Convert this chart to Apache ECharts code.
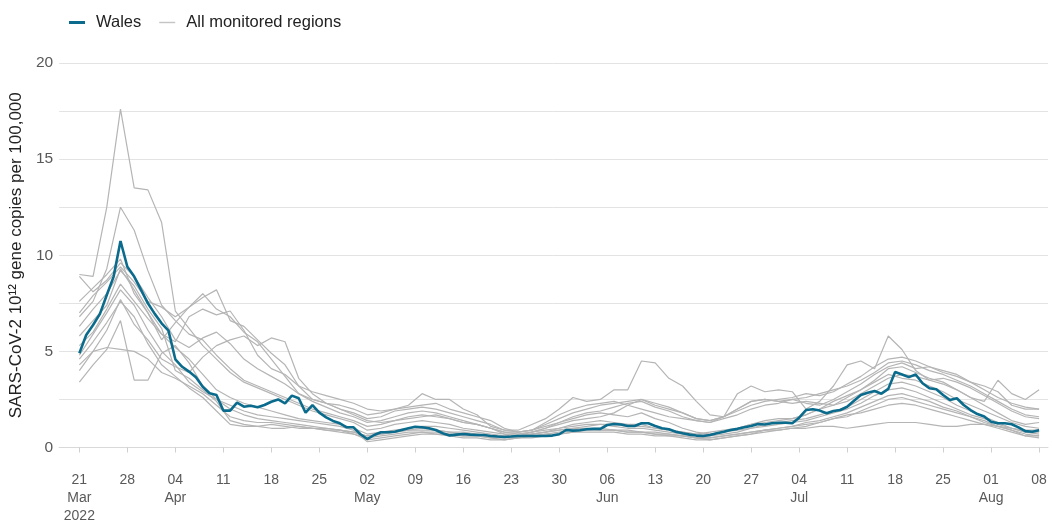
<!DOCTYPE html>
<html>
<head>
<meta charset="utf-8">
<script src="https://cdn.jsdelivr.net/npm/echarts@6/dist/echarts.min.js"></script>
<style>
  html, body { margin: 0; padding: 0; background: #fff; }
  #chart { width: 1052px; height: 526px; }
</style>
</head>
<body>
<div id="chart"></div>
<script>
// daily data, 21 Mar 2022 .. 08 Aug 2022 (day index 0..140)
const tickDays = [0, 7, 14, 21, 28, 35, 42, 49, 56, 63, 70, 77, 84, 91, 98, 105, 112, 119, 126, 133, 140];
const tickLabels = ['21\nMar\n2022', '28', '04\nApr', '11', '18', '25', '02\nMay', '09', '16', '23', '30',
  '06\nJun', '13', '20', '27', '04\nJul', '11', '18', '25', '01\nAug', '08'];

const wales = [
  4.9, 5.85, 6.37, 6.95, 7.93, 8.89, 10.74, 9.4, 8.89, 8.2,
  7.5, 6.95, 6.46, 6.08, 4.59, 4.2, 3.95, 3.65, 3.16, 2.82,
  2.73, 1.92, 1.92, 2.33, 2.12, 2.17, 2.09, 2.21, 2.38, 2.5,
  2.3, 2.7, 2.56, 1.81, 2.21, 1.81, 1.57, 1.38, 1.26, 1.05,
  1.05, 0.69, 0.44, 0.65, 0.79, 0.79, 0.82, 0.91, 1.0, 1.08,
  1.05, 1.0, 0.91, 0.74, 0.63, 0.67, 0.7, 0.67, 0.65, 0.65,
  0.6, 0.57, 0.55, 0.57, 0.6, 0.6, 0.6, 0.6, 0.6, 0.62,
  0.69, 0.91, 0.88, 0.9, 0.95, 0.97, 0.97, 1.17, 1.22, 1.2,
  1.12, 1.12, 1.26, 1.26, 1.12, 1.0, 0.95, 0.82, 0.74, 0.67,
  0.62, 0.6, 0.65, 0.74, 0.82, 0.91, 0.97, 1.05, 1.12, 1.22,
  1.2, 1.26, 1.29, 1.29, 1.26, 1.55, 1.95, 1.99, 1.92, 1.78,
  1.9, 1.95, 2.12, 2.43, 2.73, 2.85, 2.94, 2.8, 3.05, 3.93,
  3.8, 3.66, 3.8, 3.34, 3.08, 3.03, 2.73, 2.47, 2.56, 2.21,
  1.95, 1.74, 1.61, 1.34, 1.26, 1.26, 1.21, 1.05, 0.85, 0.82,
  0.9
];

// other monitored regions, read every second day (day 0, 2, 4 ... 140)
const region1 = [
  9.0, 8.9, 12.5, 17.6, 13.5, 13.4, 11.7, 7.1, 6.2, 5.3,
  4.6, 3.9, 3.4, 3.1, 2.8, 2.5, 2.2, 1.9, 1.7, 1.5,
  1.3, 0.9, 1.0, 1.2, 1.3, 1.4, 1.3, 1.2, 1.0, 0.9,
  0.8, 0.7, 0.7, 0.8, 0.9, 1.0, 1.2, 1.3, 1.4, 1.3,
  1.2, 1.2, 1.0, 0.9, 0.8, 0.7, 0.8, 0.9, 1.0, 1.2,
  1.3, 1.4, 1.5, 1.7, 2.0, 2.4, 2.7, 3.0, 3.4, 3.8,
  3.6, 3.5, 3.2, 2.9, 2.5, 2.2, 1.9, 1.6, 1.3, 1.1,
  1.0
];
const region2 = [
  6.8, 7.6, 9.3, 12.5, 11.3, 9.2, 7.4, 6.6, 5.9, 5.6,
  4.8, 4.1, 3.5, 3.2, 2.9, 2.6, 2.3, 2.0, 1.8, 1.6,
  1.4, 1.1, 1.2, 1.4, 1.6, 1.7, 1.6, 1.5, 1.3, 1.2,
  1.0, 0.8, 0.7, 0.8, 1.0, 1.3, 1.5, 1.7, 1.8, 1.7,
  1.6, 1.8, 1.5, 1.3, 1.0, 0.8, 0.7, 0.8, 1.0, 1.2,
  1.4, 1.5, 1.5, 1.7, 2.0, 2.2, 2.6, 3.0, 3.5, 4.1,
  4.2, 3.9, 3.6, 3.4, 3.0, 2.6, 2.2, 1.8, 1.4, 1.2,
  1.3
];
const region3 = [
  5.8, 6.6, 7.4, 9.3, 8.2, 7.0, 5.6, 6.5, 7.3, 7.8,
  8.2, 6.6, 6.3, 5.6, 4.9, 4.3, 3.2, 2.5, 2.3, 2.0,
  1.8, 1.5, 1.6, 1.9, 2.0, 2.1, 2.0, 1.8, 1.6, 1.4,
  1.2, 0.9, 0.8, 0.9, 1.2, 1.5, 1.8, 2.0, 2.2, 2.3,
  2.4, 2.5, 2.2, 2.0, 1.8, 1.5, 1.4, 1.6, 2.0, 2.4,
  2.5, 2.4, 2.3, 2.4, 2.3, 2.2, 2.4, 2.8, 3.2, 3.6,
  3.8, 3.7, 3.5, 3.6, 3.4, 3.1, 2.7, 2.3, 1.9, 1.6,
  1.5
];
const region4 = [
  4.3, 5.0, 6.1, 7.7, 6.4, 5.6, 4.6, 4.2, 3.9, 4.7,
  5.3, 5.6, 5.8, 5.3, 5.7, 5.5, 3.6, 2.8, 2.3, 2.0,
  1.7, 1.4, 1.3, 1.4, 1.5, 1.6, 1.7, 1.5, 1.3, 1.2,
  1.0, 0.8, 0.8, 0.9, 1.1, 1.3, 1.6, 1.8, 1.9, 2.1,
  2.3, 2.4, 2.1, 1.9, 1.6, 1.4, 1.3, 1.5, 1.7, 2.0,
  2.2, 2.3, 2.5, 2.6, 2.8, 3.0, 3.2, 3.5, 3.9, 4.4,
  4.5, 4.3, 4.0, 3.8, 3.5, 3.2, 2.8, 2.4, 2.0, 1.7,
  1.6
];
const region5 = [
  7.6, 8.3, 9.0, 9.8, 8.0, 7.0, 5.9, 5.5, 6.8, 7.2,
  6.9, 7.1, 6.1, 4.8, 4.1, 3.8, 3.2, 2.9, 2.7, 2.5,
  2.3, 2.0, 1.9, 2.0, 2.2, 2.8, 2.5, 2.5, 2.0, 1.7,
  1.1, 0.9, 0.9, 1.2, 1.5, 2.0, 2.6, 2.4, 2.5, 3.0,
  3.0, 4.5, 4.4, 3.6, 3.2, 2.4, 1.7, 1.6, 2.8, 3.2,
  2.9, 3.0, 2.9, 2.0, 2.4, 3.2, 4.3, 4.5, 4.1, 5.8,
  5.1, 4.0, 3.5, 3.3, 3.0, 2.6, 2.4, 3.5, 2.8, 2.5,
  3.0
];
const region6 = [
  8.9, 8.1, 8.7, 9.6, 8.9, 7.8, 6.8, 5.6, 5.2, 5.7,
  6.0, 5.4, 4.6, 4.1, 3.7, 3.3, 2.8, 2.4, 2.1, 1.8,
  1.6, 1.3, 1.4, 1.6, 1.8, 1.9, 1.8, 1.6, 1.4, 1.2,
  1.0, 0.7, 0.6, 0.8, 1.0, 1.2, 1.4, 1.5, 1.6, 1.8,
  2.2, 2.5, 2.3, 2.1, 1.8, 1.5, 1.4, 1.6, 1.9, 2.2,
  2.4, 2.5, 2.6, 2.8, 2.7, 2.9, 3.3, 3.7, 4.2, 4.6,
  4.7, 4.5, 4.2, 3.9, 3.7, 3.4, 3.2, 2.9, 2.2, 2.0,
  2.0
];
const region7 = [
  5.3, 6.0, 7.2, 8.5, 7.6, 6.7, 5.9, 5.2, 4.6, 3.8,
  3.0, 2.6, 2.3, 2.1, 1.9, 1.7, 1.5, 1.4, 1.3, 1.2,
  1.0, 0.7, 0.8, 0.9, 1.0, 1.1, 1.1, 1.0, 0.9, 0.8,
  0.7, 0.6, 0.6, 0.7, 0.8, 0.9, 1.0, 1.1, 1.2, 1.2,
  1.1, 1.1, 1.0, 0.9, 0.8, 0.7, 0.7, 0.8, 0.9, 1.0,
  1.2, 1.3, 1.4, 1.5, 1.7, 1.9, 2.1, 2.5, 2.9, 3.3,
  3.4, 3.2, 2.9, 2.6, 2.2, 1.9, 1.6, 1.3, 1.0, 0.8,
  0.7
];
const region8 = [
  3.4, 4.3, 5.1, 6.6, 3.5, 3.5, 4.9, 5.3, 4.4, 3.2,
  2.5, 2.0, 1.7, 1.5, 1.4, 1.3, 1.2, 1.1, 1.0, 0.9,
  0.7, 0.4, 0.5, 0.6, 0.7, 0.8, 0.8, 0.7, 0.6, 0.6,
  0.5, 0.5, 0.5, 0.6, 0.7, 0.8, 0.9, 1.0, 1.0, 0.9,
  0.9, 0.8, 0.8, 0.7, 0.6, 0.5, 0.5, 0.6, 0.7, 0.8,
  0.9, 1.0, 1.1, 1.3, 1.4, 1.6, 1.8, 2.1, 2.4, 2.7,
  2.8, 2.6, 2.4, 2.1, 1.9, 1.6, 1.4, 1.1, 0.9, 0.7,
  0.6
];
const region9 = [
  6.3, 7.2, 8.0, 9.2, 8.4, 7.2, 6.2, 4.0, 3.6, 3.0,
  2.4, 1.4, 1.2, 1.1, 1.0, 1.0, 1.1, 1.0, 0.9, 0.8,
  0.7, 0.5, 0.6, 0.7, 0.8, 0.8, 0.7, 0.7, 0.6, 0.6,
  0.5, 0.4, 0.5, 0.6, 0.7, 0.7, 0.8, 0.9, 0.9, 0.9,
  0.8, 0.8, 0.7, 0.7, 0.6, 0.5, 0.4, 0.5, 0.6, 0.7,
  0.9, 1.0, 1.1, 1.2, 1.3, 1.5, 1.6, 1.9, 2.2, 2.5,
  2.6, 2.4, 2.2, 2.0, 1.8, 1.6, 1.3, 1.1, 0.9, 0.6,
  0.6
];
const region10 = [
  4.6, 5.5, 6.5, 7.6, 6.8, 5.4, 4.3, 3.7, 3.1, 2.6,
  1.9, 1.2, 1.1, 1.1, 1.2, 1.1, 1.0, 1.0, 0.9, 0.9,
  0.8, 0.6, 0.7, 0.8, 0.9, 1.0, 0.9, 0.8, 0.8, 0.7,
  0.6, 0.6, 0.6, 0.7, 0.8, 1.0, 1.1, 1.2, 1.2, 1.1,
  1.0, 1.0, 0.9, 0.8, 0.7, 0.6, 0.6, 0.7, 0.8, 1.0,
  1.1, 1.2, 1.3, 1.4, 1.6, 1.8, 2.0, 2.3, 2.7, 3.0,
  3.1, 2.9, 2.6, 2.3, 2.0, 1.7, 1.5, 1.2, 1.0, 0.8,
  0.8
];
const region11 = [
  4.0, 5.0, 5.2, 5.1, 5.0, 4.6, 3.9, 3.6, 3.2, 2.8,
  2.2, 1.6, 1.4, 1.3, 1.3, 1.2, 1.1, 1.0, 1.0, 0.9,
  0.8, 0.6, 0.7, 0.8, 0.9, 0.9, 0.9, 0.8, 0.7, 0.7,
  0.6, 0.6, 0.6, 0.7, 0.8, 0.9, 1.0, 1.0, 0.9, 0.9,
  0.8, 0.8, 0.7, 0.6, 0.6, 0.5, 0.5, 0.6, 0.7, 0.8,
  0.9, 0.9, 1.0, 1.0, 1.1, 1.1, 1.0, 1.1, 1.2, 1.3,
  1.3, 1.3, 1.2, 1.1, 1.1, 1.2, 1.2, 1.1, 1.0, 0.9,
  0.9
];
const region12 = [
  7.0, 7.9, 8.6, 9.4, 8.6, 7.6, 7.3, 6.8, 7.3, 8.0,
  7.2, 6.8, 6.0, 5.5, 4.6, 3.7, 2.8, 2.5, 2.3, 2.2,
  2.0, 1.7, 1.8, 2.0, 2.1, 2.2, 2.3, 2.0, 1.8, 1.6,
  1.4, 1.0, 0.8, 0.9, 1.3, 1.7, 2.0, 2.2, 2.3, 2.4,
  2.2, 2.0, 1.8, 1.6, 1.5, 1.4, 1.3, 1.6, 2.0, 2.4,
  2.5, 2.4, 2.5, 2.3, 2.2, 2.5, 2.9, 3.3, 3.8, 4.2,
  4.4, 4.1, 4.2, 4.0, 3.8, 3.4, 3.0, 2.6, 2.3, 2.1,
  2.0
];
const region13 = [
  4.8, 5.9, 7.0, 8.2, 7.4, 6.1, 5.0, 4.3, 3.4, 2.9,
  2.5, 2.2, 1.9, 1.7, 1.6, 1.5, 1.4, 1.3, 1.2, 1.1,
  0.9, 0.3, 0.4, 0.5, 0.6, 0.7, 0.7, 0.6, 0.5, 0.5,
  0.4, 0.4, 0.5, 0.5, 0.6, 0.7, 0.8, 0.8, 0.8, 0.8,
  0.7, 0.7, 0.6, 0.6, 0.5, 0.4, 0.4, 0.5, 0.6, 0.7,
  0.8, 0.9, 1.0, 1.1, 1.3, 1.5, 1.7, 1.8, 2.0, 2.2,
  2.3, 2.2, 2.0, 1.8, 1.6, 1.4, 1.2, 1.0, 0.8, 0.6,
  0.5
];
const regions = [region1, region2, region3, region4, region5, region6, region7,
  region8, region9, region10, region11, region12, region13];

const WALES_COLOR = '#0a6b8c';
const GREY = '#b5b5b5';
const FONT = '"Liberation Sans", Arial, sans-serif';

let chart = echarts.init(document.getElementById('chart'), null, { renderer: 'canvas' });

let series = [];
for (let r of regions) {
  series.push({
    name: 'All monitored regions',
    type: 'line',
    symbol: 'none',
    silent: true,
    lineStyle: { color: GREY, width: 1.2 },
    itemStyle: { color: GREY },
    data: r.map((v, j) => [j * 2, v])
  });
}
series.push({
  name: 'Wales',
  type: 'line',
  symbol: 'none',
  z: 5,
  lineStyle: { color: WALES_COLOR, width: 2.6 },
  itemStyle: { color: WALES_COLOR },
  data: wales.map((v, i) => [i, v])
});

let option = {
  animation: false,
  textStyle: { fontFamily: FONT },
  legend: {
    data: [
      { name: 'Wales', icon: 'path://M0 0H16V3H0Z', itemStyle: { color: WALES_COLOR } },
      { name: 'All monitored regions', icon: 'path://M0 0H16V1.4H0Z', itemStyle: { color: '#c4c4c4' } }
    ],
    left: 64,
    top: 9,
    itemWidth: 16,
    itemHeight: 16,
    itemGap: 18,
    selectedMode: false,
    textStyle: { color: '#222', fontSize: 16.5, fontFamily: FONT, padding: [0, 0, 0, 6] }
  },
  grid: {
    left: 58,
    right: 4,
    top: 63,
    bottom: 78.5,
    containLabel: false
  },
  xAxis: {
    type: 'value',
    min: -2.95,
    max: 141.3,
    offset: 19.5,
    axisLine: { show: true, lineStyle: { color: '#d9d9d9', width: 1 } },
    axisTick: {
      show: true,
      customValues: tickDays,
      length: 5,
      lineStyle: { color: '#cfcfcf' }
    },
    axisLabel: {
      customValues: tickDays,
      color: '#595959',
      fontSize: 14,
      lineHeight: 18,
      margin: 4,
      fontFamily: FONT,
      formatter: function (v) {
        let k = tickDays.indexOf(Math.round(v));
        return k >= 0 ? tickLabels[k] : '';
      }
    },
    splitLine: { show: false }
  },
  yAxis: {
    type: 'value',
    min: 0,
    max: 20,
    interval: 2.5,
    name: 'SARS-CoV-2 10¹² gene copies per 100,000',
    nameLocation: 'middle',
    nameGap: 31,
    nameTextStyle: { color: '#222', fontSize: 17, fontFamily: FONT },
    axisLine: { show: false },
    axisTick: { show: false },
    axisLabel: {
      color: '#595959',
      fontSize: 15.5,
      margin: 6,
      fontFamily: FONT,
      formatter: function (v) {
        return v % 5 === 0 ? String(v) : '';
      }
    },
    splitLine: { show: true, lineStyle: { color: '#e3e3e3', width: 1 } }
  },
  series: series
};

chart.setOption(option);
</script>
</body>
</html>
